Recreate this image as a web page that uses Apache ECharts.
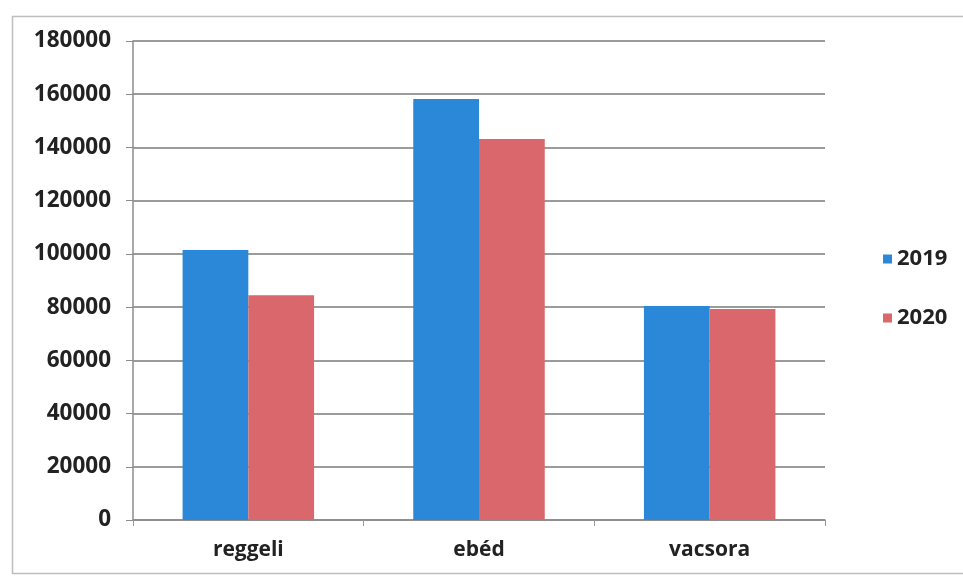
<!DOCTYPE html>
<html>
<head>
<meta charset="utf-8">
<script src="https://cdn.jsdelivr.net/npm/echarts@6/dist/echarts.min.js"></script>
<style>html,body{margin:0;padding:0;background:#fff;}#c{width:963px;height:584px;}</style>
</head>
<body>
<div id="c"></div>
<script>
var categories = ['reggeli', 'ebéd', 'vacsora'];
var seriesNames = ['2019', '2020'];
var values2019 = [101500, 158200, 80400];
var values2020 = [84500, 143200, 79300];
var yTicks = {min: 0, max: 180000, interval: 20000};

var FONT = '"Open Sans", "DejaVu Sans", sans-serif';
var chart = echarts.init(document.getElementById('c'), null, {renderer: 'canvas'});
chart.setOption({
  backgroundColor: '#ffffff',
  animation: false,
  graphic: [{
    type: 'rect', left: 10, top: 14, silent: true,
    shape: {width: 965, height: 557},
    style: {fill: 'none', stroke: '#bdbdbd', lineWidth: 1.5}
  }],
  legend: {
    orient: 'vertical',
    left: 878, top: 243,
    itemWidth: 9, itemHeight: 9, itemGap: 37,
    icon: 'rect',
    textStyle: {fontFamily: FONT, fontWeight: 'bold', fontSize: 22, color: '#222'},
    data: seriesNames
  },
  grid: {left: 133, right: 138, top: 41, bottom: 64, containLabel: false},
  xAxis: {
    type: 'category',
    data: categories,
    axisLine: {lineStyle: {color: '#8c8c8c', width: 1.5}},
    axisTick: {show: true, length: 6, lineStyle: {color: '#9a9a9a'}},
    axisLabel: {fontFamily: FONT, fontWeight: 'bold', fontSize: 21, color: '#222', margin: 20}
  },
  yAxis: {
    type: 'value',
    min: yTicks.min, max: yTicks.max, interval: yTicks.interval,
    axisLine: {show: true, lineStyle: {color: '#8c8c8c', width: 1.5}},
    axisTick: {show: true, length: 7, lineStyle: {color: '#8c8c8c'}},
    axisLabel: {fontFamily: FONT, fontWeight: 'bold', fontSize: 22.5, color: '#222', margin: 22,
      formatter: function (v) { return String(v); }},
    splitLine: {lineStyle: {color: '#7a7a7a', width: 1.5}}
  },
  series: [{
    name: seriesNames[0], type: 'bar', data: values2019,
    barGap: '0%', barCategoryGap: '43%',
    itemStyle: {color: '#2b88d8'}
  }, {
    name: seriesNames[1], type: 'bar', data: values2020,
    barGap: '0%', barCategoryGap: '43%',
    itemStyle: {color: '#d9676b'}
  }]
});
</script>
</body>
</html>
